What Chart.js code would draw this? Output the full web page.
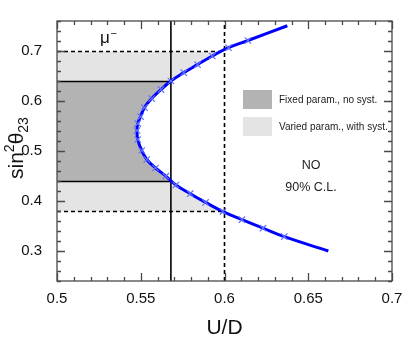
<!DOCTYPE html>
<html>
<head>
<meta charset="utf-8">
<script src="https://cdn.jsdelivr.net/npm/chart.js@4/dist/chart.umd.min.js"></script>
<style>
  html, body { margin: 0; padding: 0; background: #fff; }
  canvas { display: block; }
</style>
</head>
<body>
<canvas id="chart" width="407" height="344"></canvas>
<script>
// axis ticks
const xTicks = [0.5, 0.55, 0.6, 0.65, 0.7];
const xTickLabels = ['0.5', '0.55', '0.6', '0.65', '0.7'];
const yTicks = [0.3, 0.4, 0.5, 0.6, 0.7];
const yTickLabels = ['0.3', '0.4', '0.5', '0.6', '0.7'];

// 90% C.L. contour (U/D vs sin^2 theta23)
const lineUD  = [0.6375, 0.614, 0.6024, 0.5927, 0.5839, 0.5757, 0.568, 0.5621, 0.5565, 0.5522, 0.5499, 0.5482, 0.5478,
                 0.5482, 0.5506, 0.5536, 0.5588, 0.565, 0.571, 0.5795, 0.5887, 0.5991, 0.6104, 0.623, 0.6357, 0.662];
const lineS23 = [0.7505, 0.721, 0.7066, 0.690, 0.6727, 0.6567, 0.640, 0.6228, 0.6048, 0.5868, 0.5689, 0.5549, 0.541,
                 0.523, 0.501, 0.483, 0.466, 0.4497, 0.432, 0.4146, 0.3972, 0.3788, 0.3627, 0.3457, 0.3287, 0.300];

// simulated points (crosses)
const markerUD  = [0.614, 0.6024, 0.5927, 0.5839, 0.5757, 0.568, 0.5621, 0.5565, 0.5522, 0.5499, 0.5482, 0.5478,
                   0.5482, 0.5506, 0.5536, 0.5588, 0.565, 0.571, 0.5795, 0.5887, 0.5991, 0.6104, 0.623, 0.6357];
const markerS23 = [0.721, 0.7066, 0.690, 0.6727, 0.6567, 0.640, 0.6228, 0.6048, 0.5868, 0.5689, 0.5549, 0.541,
                   0.523, 0.501, 0.483, 0.466, 0.4497, 0.432, 0.4146, 0.3972, 0.3788, 0.3627, 0.3457, 0.3287];

// U/D values and sin^2 theta23 intervals
const udFixed = 0.568;
const udVaried = 0.6;
const fixedBand = [0.439, 0.639];
const systBand = [0.379, 0.699];

const legendLabels = ['Fixed param., no syst.', 'Varied param., with syst.'];

const xMin = 0.5, xMax = 0.7, yMin = 0.24, yMax = 0.76;
const FONT = "'Liberation Sans', Arial, Helvetica, sans-serif";
const DARK = '#b3b3b3';
const LIGHT = '#e4e4e4';

function pts(xs, ys) {
    return xs.map((x, i) => ({ x: x, y: ys[i] }));
}

// region left of the contour between two sin^2 values
function band(lo, hi, ud) {
    const inner = pts(lineUD, lineS23).filter(p => p.y < hi && p.y > lo);
    return [{ x: xMin, y: hi }, { x: ud, y: hi }, ...inner, { x: ud, y: lo }, { x: xMin, y: lo }];
}

function seg(x1, y1, x2, y2, dash, order) {
    return {
        data: [{ x: x1, y: y1 }, { x: x2, y: y2 }],
        borderColor: '#000',
        borderWidth: 1.6,
        borderDash: dash,
        pointRadius: 0,
        fill: false,
        order: order
    };
}

const frameTicks = {
    id: 'frameTicks',
    afterDatasetsDraw(chart) {
        const { ctx, chartArea: a, scales: { x, y } } = chart;
        ctx.save();
        ctx.strokeStyle = '#4a4a4a';
        ctx.lineWidth = 1.3;
        ctx.strokeRect(a.left, a.top, a.right - a.left, a.bottom - a.top);
        ctx.beginPath();
        for (let i = 0; i <= 20; i++) {
            const v = xMin + i * 0.01;
            const len = (i % 5 === 0) ? 8 : 4;
            const px = Math.round(x.getPixelForValue(v)) + 0.5;
            ctx.moveTo(px, a.bottom); ctx.lineTo(px, a.bottom - len);
            ctx.moveTo(px, a.top); ctx.lineTo(px, a.top + len);
        }
        for (let i = 0; i <= 26; i++) {
            const v = yMin + i * 0.02;
            const len = (i % 5 === 3) ? 8 : 4;
            const py = Math.round(y.getPixelForValue(v)) + 0.5;
            ctx.moveTo(a.left, py); ctx.lineTo(a.left + len, py);
            ctx.moveTo(a.right, py); ctx.lineTo(a.right - len, py);
        }
        ctx.stroke();
        ctx.restore();
    }
};

const annotations = {
    id: 'annotations',
    afterDraw(chart) {
        const { ctx } = chart;
        ctx.save();
        // legend boxes
        const fills = [DARK, LIGHT];
        ctx.textBaseline = 'middle';
        ctx.textAlign = 'left';
        ctx.font = '10px ' + FONT;
        legendLabels.forEach((lab, i) => {
            const top = 90 + i * 27;
            ctx.fillStyle = fills[i];
            ctx.fillRect(243, top, 29, 19);
            ctx.fillStyle = '#222';
            ctx.fillText(lab, 279, top + 10);
        });
        // NO / 90% C.L.
        ctx.textAlign = 'center';
        ctx.font = '12.5px ' + FONT;
        ctx.fillText('NO', 311, 166);
        ctx.fillText('90% C.L.', 311, 188);
        // mu-
        ctx.textAlign = 'left';
        ctx.textBaseline = 'alphabetic';
        ctx.fillStyle = '#111';
        ctx.font = '17px ' + FONT;
        ctx.fillText('\u03bc', 100, 43);
        ctx.font = '11px ' + FONT;
        ctx.fillText('\u2212', 110.5, 37);
        // y axis title sin^2 theta_23
        ctx.translate(23, 179);
        ctx.rotate(-Math.PI / 2);
        let cx = 0;
        ctx.font = '21px ' + FONT;
        ctx.fillText('sin', cx, 0); cx += ctx.measureText('sin').width;
        ctx.font = '14px ' + FONT;
        ctx.fillText('2', cx, -9); cx += ctx.measureText('2').width;
        ctx.font = '21px ' + FONT;
        ctx.fillText('\u03b8', cx, 0); cx += ctx.measureText('\u03b8').width;
        ctx.font = '14px ' + FONT;
        ctx.fillText('23', cx, 5);
        ctx.restore();
    }
};

new Chart(document.getElementById('chart'), {
    type: 'line',
    data: {
        datasets: [
            {
                data: band(systBand[0], systBand[1], udVaried),
                backgroundColor: LIGHT, borderWidth: 0, pointRadius: 0, fill: 'shape', order: 4
            },
            {
                data: band(fixedBand[0], fixedBand[1], udFixed),
                backgroundColor: DARK, borderWidth: 0, pointRadius: 0, fill: 'shape', order: 3
            },
            seg(udFixed, yMin, udFixed, yMax, [], 2),
            seg(udVaried, yMin, udVaried, yMax, [4, 3], 2),
            seg(xMin, fixedBand[0], udFixed, fixedBand[0], [], 2),
            seg(xMin, fixedBand[1], udFixed, fixedBand[1], [], 2),
            seg(xMin, systBand[0], udVaried, systBand[0], [4, 3], 2),
            seg(xMin, systBand[1], udVaried, systBand[1], [4, 3], 2),
            {
                data: pts(lineUD, lineS23),
                borderColor: '#0000ff', borderWidth: 3, tension: 0.4,
                pointRadius: 0, fill: false, order: 1
            },
            {
                data: pts(markerUD, markerS23),
                showLine: false, pointStyle: 'crossRot', pointRadius: 4.5,
                pointBorderColor: '#6272ff', pointBorderWidth: 1.2,
                order: 0
            }
        ]
    },
    options: {
        responsive: false,
        animation: false,
        layout: { padding: { left: 0, right: 15, top: 21, bottom: 0 } },
        plugins: { legend: { display: false }, tooltip: { enabled: false } },
        scales: {
            x: {
                type: 'linear', min: xMin, max: xMax,
                grid: { display: false }, border: { display: false },
                afterBuildTicks: s => { s.ticks = xTicks.map(v => ({ value: v })); },
                afterFit: s => { s.height = 63; },
                ticks: {
                    callback: v => xTickLabels[xTicks.indexOf(v)],
                    font: { family: FONT, size: 15 }, color: '#111', padding: 1,
                    maxRotation: 0, autoSkip: false
                },
                title: {
                    display: true, text: 'U/D', color: '#111',
                    font: { family: FONT, size: 21 }, padding: { top: 0, bottom: 3 }
                }
            },
            y: {
                type: 'linear', min: yMin, max: yMax,
                grid: { display: false }, border: { display: false },
                afterBuildTicks: s => { s.ticks = yTicks.map(v => ({ value: v })); },
                afterFit: s => { s.width = 57; },
                ticks: {
                    callback: v => yTickLabels[yTicks.indexOf(v)],
                    font: { family: FONT, size: 15 }, color: '#111', padding: 7,
                    autoSkip: false
                }
            }
        }
    },
    plugins: [frameTicks, annotations]
});
</script>
</body>
</html>
